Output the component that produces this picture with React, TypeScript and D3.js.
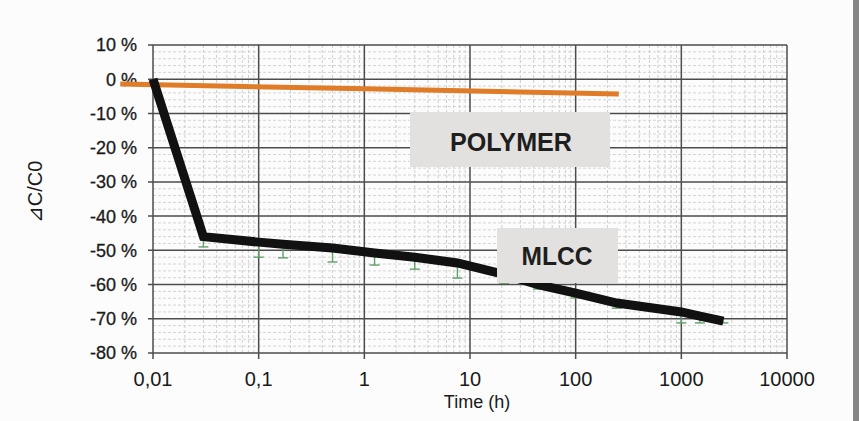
import React from 'react';
import * as d3 from 'd3';

// measured times (h) and capacitance change (%)
const times = [0.01, 0.03, 0.1, 0.17, 0.5, 1.25, 3, 7.6, 21, 44, 100, 245, 1000, 1500, 2500];
const mlcc = [0, -46, -47.6, -48.2, -49.3, -50.8, -52, -53.7, -57, -60, -62.5, -65.4, -68, -69.2, -70.7];
const mlccLow = [0, -49, -52, -52.2, -53.4, -54.3, -55.5, -58.1, -59.6, -61.3, -63.9, -66.9, -71.2, -71.2, -71.2];

const polymerTimes = [0.0049, 1, 256];
const polymer = [-1.4, -2.8, -4.3];

const xTicks = [0.01, 0.1, 1, 10, 100, 1000, 10000];
const xTickLabels = ['0,01', '0,1', '1', '10', '100', '1000', '10000'];
const yTicks = [10, 0, -10, -20, -30, -40, -50, -60, -70, -80];

const W = 859;
const H = 421;
const left = 153, right = 787, top = 45, bottom = 353;
const font = '"Liberation Sans", Arial, sans-serif';

const App = () => {
  var x = d3.scaleLog().domain([0.01, 10000]).range([left, right]);
  var y = d3.scaleLinear().domain([-80, 10]).range([bottom, top]);

  var minorX: number[] = [];
  for (var e = -2; e < 4; e++) {
    for (var k = 2; k < 10; k++) minorX.push(k * Math.pow(10, e));
  }
  var minorY = d3.range(-80, 10, 2).filter(v => v % 10 !== 0);

  var line = d3.line<[number, number]>().x(d => x(d[0])).y(d => y(d[1]));
  var mlccPts: [number, number][] = times.map((t, i) => [t, mlcc[i]]);
  var polyPts: [number, number][] = polymerTimes.map((t, i) => [t, polymer[i]]);

  return (
    <svg width={W} height={H} style={{ position: 'absolute', left: 0, top: 0, background: '#fcfcfc' }}>
      <rect x={853} y={0} width={6} height={H} fill="#858585" />

      {/* minor grid */}
      {minorX.map((t, i) => (
        <line key={'mx' + i} x1={x(t)} x2={x(t)} y1={top} y2={bottom}
          stroke="#c4c4c4" strokeWidth={0.8} strokeDasharray="3,2" />
      ))}
      {minorY.map((v, i) => (
        <line key={'my' + i} x1={left} x2={right} y1={y(v)} y2={y(v)}
          stroke="#cacaca" strokeWidth={0.8} strokeDasharray="3,2" />
      ))}

      {/* major grid */}
      {xTicks.map((t, i) => (
        <line key={'gx' + i} x1={x(t)} x2={x(t)} y1={top} y2={bottom + 6} stroke="#4d4d4d" strokeWidth={1.5} />
      ))}
      {yTicks.map((v, i) => (
        <line key={'gy' + i} x1={left - 5} x2={right} y1={y(v)} y2={y(v)} stroke="#4d4d4d" strokeWidth={1.5} />
      ))}

      {/* tick labels */}
      {yTicks.map((v, i) => (
        <text key={'ty' + i} x={137} y={y(v)} dy="0.36em" textAnchor="end"
          fontFamily={font} fontSize={18} fill="#1a1a1a" stroke="#1a1a1a" strokeWidth={0.3}>{v + ' %'}</text>
      ))}
      {xTickLabels.map((s, i) => (
        <text key={'tx' + i} x={x(xTicks[i])} y={386} textAnchor="middle"
          fontFamily={font} fontSize={20} fill="#1a1a1a">{s}</text>
      ))}
      <text x={477} y={408} textAnchor="middle" fontFamily={font} fontSize={18} fill="#1a1a1a">Time (h)</text>
      <text transform="translate(42,192) rotate(-90)" textAnchor="middle"
        fontFamily={font} fontSize={20} fill="#1a1a1a">⊿C/C0</text>

      {/* error bars (minus) */}
      {times.map((t, i) => mlccLow[i] < mlcc[i] ? (
        <g key={'e' + i} stroke="#5f9f6a" strokeWidth={1.4}>
          <line x1={x(t)} x2={x(t)} y1={y(mlcc[i])} y2={y(mlccLow[i])} />
          <line x1={x(t) - 5} x2={x(t) + 5} y1={y(mlccLow[i])} y2={y(mlccLow[i])} />
        </g>
      ) : null)}

      {/* series */}
      <path d={line(polyPts) || ''} fill="none" stroke="#e07b27" strokeWidth={5} />
      <path d={line(mlccPts) || ''} fill="none" stroke="#111" strokeWidth={9} strokeLinejoin="miter" />

      {/* labels */}
      <rect x={410} y={112} width={200} height={55} fill="#e3e1df" />
      <text x={511} y={142} dy="0.36em" textAnchor="middle" fontFamily={font} fontWeight="bold"
        fontSize={26} fill="#1e1e1e" textLength={122} lengthAdjust="spacingAndGlyphs">POLYMER</text>
      <rect x={497} y={228} width={121} height={55} fill="#e3e1df" />
      <text x={557} y={256} dy="0.36em" textAnchor="middle" fontFamily={font} fontWeight="bold"
        fontSize={26} fill="#1e1e1e" textLength={71} lengthAdjust="spacingAndGlyphs">MLCC</text>
    </svg>
  );
};

export default App;
